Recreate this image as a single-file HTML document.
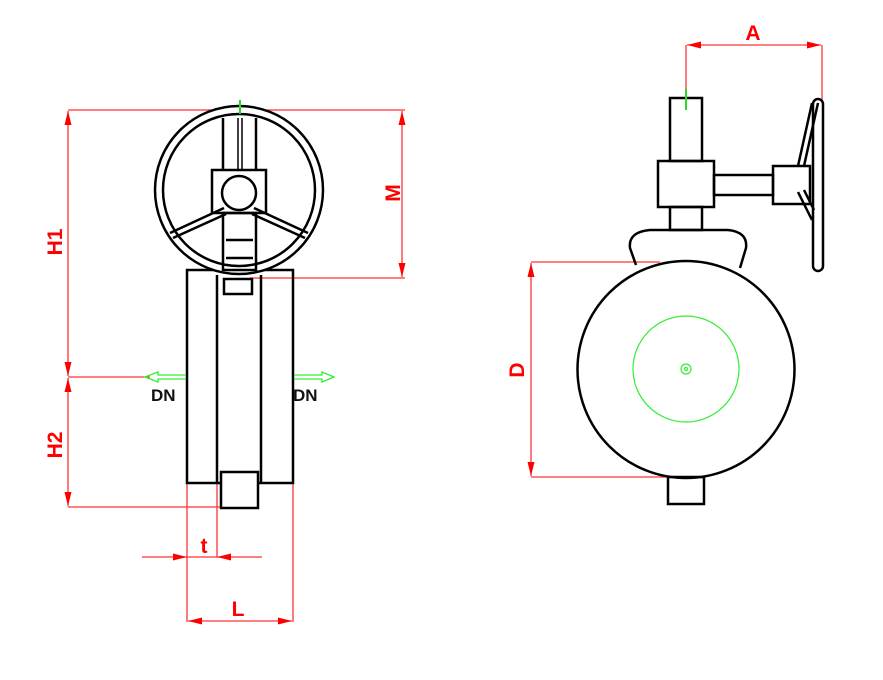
<!DOCTYPE html>
<html><head><meta charset="utf-8"><style>html,body{margin:0;padding:0;background:#fff}svg{display:block}</style></head>
<body>
<svg width="883" height="680" viewBox="0 0 883 680" xmlns="http://www.w3.org/2000/svg" font-family="Liberation Sans, sans-serif">
<defs>
<marker id="ar" viewBox="0 0 14 8" refX="14" refY="4" markerWidth="14" markerHeight="8" orient="auto-start-reverse" markerUnits="userSpaceOnUse"><path d="M0,0.5 L14,4 L0,7.5 Z" fill="#f00"/></marker>
</defs>
<g stroke="#f33" stroke-width="1.3" fill="none">
<line x1="68" y1="110" x2="405" y2="110"/>
<line x1="250" y1="278" x2="405" y2="278"/>
<line x1="68" y1="377" x2="150" y2="377"/>
<line x1="68" y1="507" x2="222" y2="507"/>
<line x1="187" y1="483" x2="187" y2="622"/>
<line x1="293" y1="483" x2="293" y2="622"/>
<line x1="217" y1="483" x2="217" y2="557"/>
<line x1="142" y1="557" x2="262" y2="557"/>
<line x1="686" y1="45" x2="686" y2="98"/>
<line x1="822" y1="45" x2="822" y2="100"/>
<line x1="531" y1="262" x2="660" y2="262"/>
<line x1="531" y1="477" x2="686" y2="477"/>
</g>
<g stroke="#f33" stroke-width="1.3" fill="none" marker-start="url(#ar)" marker-end="url(#ar)">
<line x1="68" y1="111" x2="68" y2="376"/>
<line x1="68" y1="378" x2="68" y2="506"/>
<line x1="402" y1="111" x2="402" y2="277"/>
<line x1="188" y1="621" x2="292" y2="621"/>
<line x1="687" y1="45" x2="821" y2="45"/>
<line x1="531" y1="263" x2="531" y2="476"/>
</g>
<g fill="#f00">
<path d="M187,557 L173,553.5 L173,560.5 Z"/>
<path d="M217,557 L231,553.5 L231,560.5 Z"/>
</g>
<g fill="#f00" font-weight="bold" font-size="21" text-anchor="middle">
<text transform="translate(62,242) rotate(-90)">H1</text>
<text transform="translate(62,445) rotate(-90)">H2</text>
<text transform="translate(400,193) rotate(-90)">M</text>
<text transform="translate(524,370) rotate(-90)">D</text>
<text x="204" y="553">t</text>
<text x="238" y="616">L</text>
<text x="753" y="40">A</text>
</g>
<g stroke="#000" stroke-width="2.5" fill="none">
<rect x="187" y="270" width="106" height="213"/>
<line x1="217" y1="275" x2="217" y2="483"/>
<line x1="261" y1="275" x2="261" y2="483"/>
<rect x="221" y="472" width="37" height="36" fill="#fff"/>
<rect x="224" y="279" width="28" height="15"/>
<circle cx="239" cy="190" r="84" fill="#fff"/>
<circle cx="239" cy="190" r="76"/>
<line x1="223" y1="118" x2="223" y2="170"/>
<line x1="256" y1="118" x2="256" y2="170"/>
<line x1="238" y1="118" x2="238" y2="170" stroke-width="1.5"/>
<line x1="242" y1="118" x2="242" y2="170" stroke-width="1.5"/>
<rect x="212" y="170" width="54" height="43" fill="#fff"/>
<rect x="223" y="213" width="33" height="57"/>
<line x1="226" y1="240" x2="253" y2="240"/>
<line x1="226" y1="258" x2="253" y2="258"/>
<line x1="224" y1="208" x2="170" y2="233"/>
<line x1="226" y1="214" x2="173" y2="238"/>
<line x1="254" y1="208" x2="308" y2="233"/>
<line x1="252" y1="214" x2="305" y2="238"/>
<circle cx="239" cy="193" r="17" fill="#fff"/>
</g>
<line x1="240" y1="100" x2="240" y2="114" stroke="#2d2" stroke-width="2"/>
<g stroke="#3e3" stroke-width="1.3" fill="none">
<path d="M186,375 L158,375 L158,372 L145,377 L158,382 L158,379 L186,379"/>
<path d="M294,375 L322,375 L322,372 L334,377 L322,382 L322,379 L294,379"/>
</g>
<g font-size="17" font-weight="bold" fill="#111">
<text x="151" y="401">DN</text>
<text x="293" y="401">DN</text>
<text x="669" y="398">DN</text>
</g>
<g stroke="#000" stroke-width="2.5" fill="none">
<path d="M636,265 L630,248 Q628,232 650,230 L728,230 Q748,232 746,248 L740,268"/>
<circle cx="686" cy="369.5" r="108.5" fill="#fff"/>
<rect x="668" y="477" width="36" height="27"/>
<rect x="670" y="98" width="32" height="63"/>
<rect x="658" y="161" width="56" height="46"/>
<rect x="670" y="207" width="32" height="23"/>
<rect x="714" y="175" width="59" height="20"/>
<rect x="773" y="166" width="37" height="38"/>
<rect x="813" y="99" width="10" height="172" rx="5"/>
<line x1="812" y1="103" x2="798" y2="166"/>
<line x1="818" y1="103" x2="804" y2="166"/>
<line x1="798" y1="192" x2="812" y2="220"/>
<line x1="804" y1="190" x2="814" y2="210"/>
</g>
<line x1="686" y1="89" x2="686" y2="110" stroke="#2d2" stroke-width="2"/>
<g stroke="#3e3" stroke-width="1.2" fill="none">
<circle cx="686" cy="369" r="53"/>
<circle cx="686" cy="369" r="5"/>
<circle cx="686" cy="369" r="1.5"/>
</g>
</svg>
</body></html>
